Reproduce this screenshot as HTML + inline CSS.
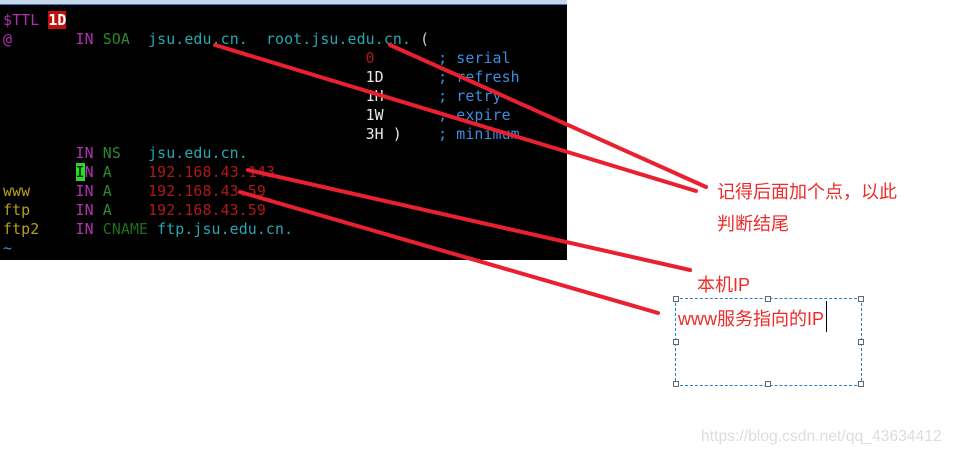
<!DOCTYPE html>
<html><head><meta charset="utf-8"><style>
body{margin:0;width:954px;height:457px;background:#fff;position:relative;overflow:hidden;font-family:"Liberation Sans","Noto Sans CJK SC",sans-serif}
#top{position:absolute;left:0;top:0;width:567px;height:4px;background:#c8d8ec}
#top2{position:absolute;left:0;top:4px;width:567px;height:1px;background:#3a7cc4}
#term{position:absolute;left:0;top:5px;width:567px;height:255px;background:#000}
pre{margin:0;position:absolute;left:3px;top:11px;font-family:"DejaVu Sans Mono","Liberation Mono",monospace;font-size:14.9px;line-height:19px;color:#ccc;letter-spacing:0.1px}
.m{color:#b22fb2}.g{color:#2a8a2a}.c{color:#26a8b0}.r{color:#b01818}.y{color:#b8a018}.b{color:#3a8ee0}.w{color:#e8e8e8}.dg{color:#1c6e1c}
.t{position:absolute;color:#ee2a2a;font-size:18px;white-space:nowrap}
#box{position:absolute;left:675px;top:298px;width:185px;height:86px;border:1px dashed #2a7fd0}
.h{position:absolute;width:4px;height:4px;border:1px solid #666;background:#fff}
</style></head><body>
<div id="top"></div><div id="top2"></div>
<div id="term"></div>
<pre><span class="m">$TTL</span> <span style="background:#c01010;color:#fff;font-weight:bold">1D</span>
<span class="m">@</span>       <span class="m">IN</span> <span class="g">SOA</span>  <span class="c">jsu.edu.cn.</span>  <span class="c">root.jsu.edu.cn.</span> (
                                        <span class="r">0</span>       <span class="b">; serial</span>
                                        <span class="w">1D</span>      <span class="b">; refresh</span>
                                        <span class="w">1H</span>      <span class="b">; retry</span>
                                        <span class="w">1W</span>      <span class="b">; expire</span>
                                        <span class="w">3H )</span>    <span class="b">; minimum</span>
        <span class="m">IN</span> <span class="g">NS</span>   <span class="c">jsu.edu.cn.</span>
        <span style="background:#20e020;color:#000">I</span><span class="m">N</span> <span class="g">A</span>    <span class="r">192.168.43.143</span>
<span class="y">www</span>     <span class="m">IN</span> <span class="g">A</span>    <span class="r">192.168.43.59</span>
<span class="y">ftp</span>     <span class="m">IN</span> <span class="g">A</span>    <span class="r">192.168.43.59</span>
<span class="y">ftp2</span>    <span class="m">IN</span> <span class="dg">CNAME</span> <span class="c">ftp.jsu.edu.cn.</span>
<span class="b">~</span></pre>
<svg width="954" height="457" style="position:absolute;left:0;top:0">
<g stroke="#e82030" stroke-width="4" stroke-linecap="round">
<line x1="215" y1="45" x2="696" y2="191"/>
<line x1="390" y1="45" x2="706" y2="187"/>
<line x1="248" y1="170" x2="690" y2="270"/>
<line x1="240" y1="192" x2="658" y2="313"/>
</g></svg>
<div class="t" style="left:717px;top:178px">记得后面加个点，以此</div>
<div class="t" style="left:717px;top:210px">判断结尾</div>
<div class="t" style="left:697px;top:271px">本机IP</div>
<div id="box"></div>
<div class="h" style="left:673px;top:296px"></div><div class="h" style="left:765px;top:296px"></div><div class="h" style="left:858px;top:296px"></div>
<div class="h" style="left:673px;top:339px"></div><div class="h" style="left:858px;top:339px"></div>
<div class="h" style="left:673px;top:381px"></div><div class="h" style="left:765px;top:381px"></div><div class="h" style="left:858px;top:381px"></div>
<div class="t" style="left:678px;top:305px">www服务指向的IP</div>
<div style="position:absolute;left:826px;top:301px;width:1px;height:31px;background:#000"></div>
<div style="position:absolute;left:701px;top:428px;color:#ddd;font-size:15.7px">https://blog.csdn.net/qq_43634412</div>
</body></html>
